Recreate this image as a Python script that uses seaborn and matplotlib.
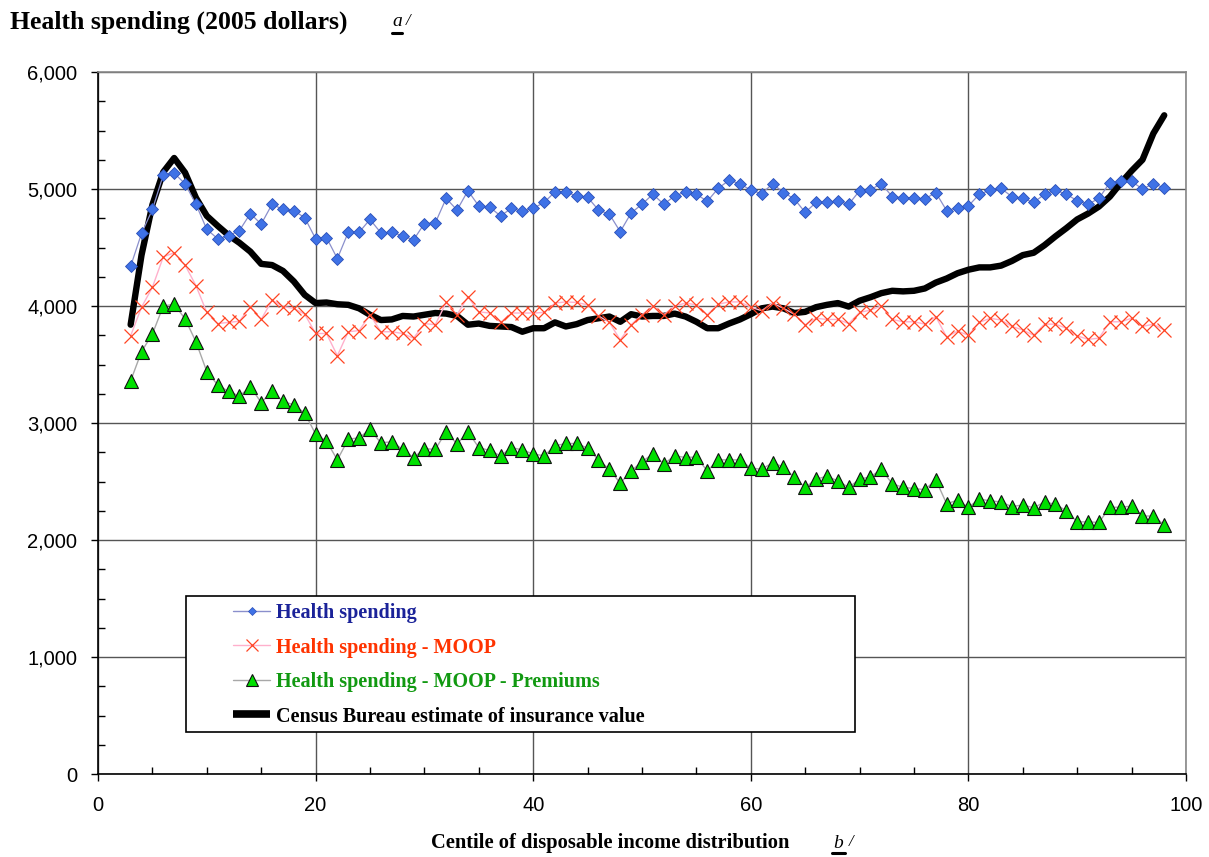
import matplotlib
matplotlib.use("Agg")
import matplotlib.pyplot as plt
import seaborn as sns
import pandas as pd
from matplotlib.lines import Line2D
from matplotlib.patches import Rectangle
from matplotlib.ticker import MultipleLocator, StrMethodFormatter

centiles = list(range(3, 99))
health = [4340, 4620, 4825, 5120, 5135, 5045, 4870, 4655, 4575, 4600, 4645, 4790, 4700, 4870, 4825, 4815, 4755, 4575, 4585,
          4405, 4630, 4630, 4740, 4625, 4630, 4600, 4565, 4705, 4710, 4920, 4820, 4985, 4855, 4845, 4770, 4835, 4810, 4835, 4885,
          4975, 4975, 4940, 4930, 4820, 4785, 4635, 4795, 4870, 4955, 4870, 4940, 4975, 4955, 4895, 5005, 5075, 5045, 4990,
          4960, 5045, 4970, 4915, 4800, 4885, 4885, 4895, 4870, 4985, 4995, 5045, 4935, 4925, 4925, 4915, 4970, 4815, 4840,
          4855, 4955, 4990, 5005, 4935, 4920, 4885, 4955, 4990, 4955, 4900, 4870, 4920, 5055, 5065, 5065, 5000, 5045, 5010]
moop = [3745, 3990, 4160, 4420, 4455, 4350, 4175, 3945, 3850, 3860, 3870, 3995, 3885, 4050, 3995, 3980, 3930, 3765, 3765,
        3575, 3780, 3790, 3925, 3780, 3780, 3765, 3725, 3850, 3840, 4030, 3925, 4080, 3950, 3940, 3860, 3940, 3940, 3940, 3945,
        4025, 4035, 4030, 4010, 3915, 3860, 3710, 3840, 3925, 4000, 3925, 4000, 4025, 4010, 3925, 4015, 4035, 4035, 3990,
        3960, 4025, 3980, 3930, 3840, 3895, 3885, 3885, 3850, 3945, 3965, 4000, 3885, 3865, 3865, 3845, 3910, 3735, 3785,
        3750, 3860, 3895, 3880, 3825, 3795, 3750, 3845, 3845, 3810, 3745, 3715, 3725, 3865, 3865, 3895, 3825, 3845, 3795]
premiums = [3360, 3610, 3760, 4000, 4015, 3890, 3695, 3440, 3325, 3270, 3230, 3310, 3175, 3270, 3185, 3155, 3085, 2905, 2845,
            2685, 2860, 2875, 2945, 2830, 2840, 2775, 2705, 2780, 2775, 2925, 2820, 2925, 2790, 2765, 2720, 2790, 2770, 2735, 2720,
            2805, 2825, 2825, 2785, 2685, 2605, 2485, 2590, 2670, 2735, 2650, 2720, 2705, 2710, 2590, 2685, 2685, 2685, 2615,
            2605, 2660, 2625, 2535, 2450, 2520, 2545, 2505, 2450, 2520, 2540, 2605, 2480, 2450, 2440, 2430, 2515, 2310, 2340,
            2280, 2350, 2335, 2325, 2285, 2300, 2275, 2325, 2305, 2250, 2155, 2155, 2150, 2280, 2280, 2290, 2205, 2205, 2130]
census = [3840, 4435, 4865, 5145, 5265, 5140, 4925, 4770, 4685, 4605, 4540, 4465, 4360, 4350, 4300, 4210, 4095, 4025, 4030,
          4015, 4010, 3980, 3925, 3880, 3885, 3915, 3910, 3925, 3940, 3935, 3915, 3840, 3850, 3830, 3825, 3820, 3780, 3810, 3810,
          3860, 3825, 3845, 3880, 3895, 3910, 3865, 3930, 3910, 3915, 3915, 3935, 3910, 3865, 3810, 3810, 3850, 3885, 3930,
          3980, 3995, 3980, 3940, 3950, 3990, 4010, 4025, 3995, 4045, 4075, 4110, 4130, 4125, 4130, 4150, 4200, 4235, 4280,
          4310, 4330, 4330, 4345, 4385, 4435, 4455, 4520, 4595, 4665, 4740, 4790, 4850, 4935, 5050, 5155, 5250, 5475, 5630]

labels = ["Health spending", "Health spending - MOOP",
          "Health spending - MOOP - Premiums", "Census Bureau estimate of insurance value"]
label_colors = ["#1a2299", "#ff3300", "#119911", "#000000"]
title = "Health spending (2005 dollars)"
xlabel = "Centile of disposable income distribution"

df = pd.DataFrame({"centile": centiles, "health": health, "moop": moop,
                   "premiums": premiums, "census": census})

sns.set_style("white")
plt.rcParams["font.family"] = ["Liberation Sans", "DejaVu Sans"]
plt.rcParams["text.color"] = "black"
plt.rcParams["xtick.color"] = "black"
plt.rcParams["ytick.color"] = "black"
plt.rcParams["axes.labelcolor"] = "black"
serif = ["Liberation Serif", "DejaVu Serif"]

fig = plt.figure(figsize=(12.09, 8.57), dpi=100)
ax = fig.add_axes([98 / 1209, 83 / 857, 1088 / 1209, 702 / 857])

sns.lineplot(data=df, x="centile", y="census", ax=ax, color="black", linewidth=4.6, zorder=3)
sns.lineplot(data=df, x="centile", y="health", ax=ax, color="#8a8fcc", linewidth=0.9,
             marker="D", markersize=6.2, markerfacecolor="#3f72e6", markeredgecolor="#2a4fb8",
             markeredgewidth=0.6, zorder=4)
sns.lineplot(data=df, x="centile", y="moop", ax=ax, color="#ffb0cc", linewidth=1.0,
             marker="x", markersize=10, markeredgecolor="#ff4422", markeredgewidth=0.9, zorder=4)
sns.lineplot(data=df, x="centile", y="premiums", ax=ax, color="#a8a8a8", linewidth=1.0,
             marker="^", markersize=9.5, markerfacecolor="#00e000", markeredgecolor="#111111",
             markeredgewidth=0.8, zorder=4)

ax.set_xlim(0, 100)
ax.set_ylim(0, 6000)
ax.xaxis.set_major_locator(MultipleLocator(20))
ax.xaxis.set_minor_locator(MultipleLocator(5))
ax.yaxis.set_major_locator(MultipleLocator(1000))
ax.yaxis.set_minor_locator(MultipleLocator(250))
ax.yaxis.set_major_formatter(StrMethodFormatter("{x:,.0f}"))
ax.grid(True, which="major", color="#555555", linewidth=1.0, zorder=0)
ax.set_axisbelow(True)
ax.tick_params(axis="both", which="major", direction="out", length=5, width=1,
               color="black", labelsize=14.5, left=True, bottom=True)
ax.tick_params(axis="y", which="major", pad=10)
ax.tick_params(axis="x", which="major", pad=11)
ax.tick_params(axis="both", which="minor", direction="in", length=5, width=1,
               color="black", left=True, bottom=True)
ax.set_xlabel("")
ax.set_ylabel("")
for s in ["left", "bottom"]:
    ax.spines[s].set_color("black")
    ax.spines[s].set_linewidth(1.2)
for s in ["top", "right"]:
    ax.spines[s].set_color("#888888")
    ax.spines[s].set_linewidth(1.2)

# legend frame
ax.add_patch(Rectangle(((186 - 98) / 1088, (774 - 732) / 702), 669 / 1088, 136 / 702,
                       transform=ax.transAxes, facecolor="white", edgecolor="black",
                       linewidth=1.2, zorder=9))

handles = [
    Line2D([], [], color="#8a8fcc", linewidth=1.0, marker="D", markersize=4.5,
           markerfacecolor="#3f72e6", markeredgecolor="#2a4fb8", markeredgewidth=0.5),
    Line2D([], [], color="#ffb0cc", linewidth=1.0, marker="x", markersize=9,
           markeredgecolor="#ff4422", markeredgewidth=0.9),
    Line2D([], [], color="#a8a8a8", linewidth=1.0, marker="^", markersize=8,
           markerfacecolor="#00e000", markeredgecolor="#111111", markeredgewidth=0.8),
    Line2D([], [], color="black", linewidth=5.5, solid_capstyle="butt"),
]
leg = ax.legend(handles, labels, loc="upper left",
                bbox_to_anchor=((233 - 98) / 1088, (774 - 603) / 702),
                frameon=False, borderaxespad=0, borderpad=0,
                handlelength=1.85, handletextpad=0.3, labelspacing=0.72,
                prop={"family": serif, "weight": "bold", "size": 14.5})
leg.set_zorder(10)
for t, c in zip(leg.get_texts(), label_colors):
    t.set_color(c)

# title and axis label
fig.text(10 / 1209, 1 - 22 / 857, title, family=serif, weight="bold", size=18.5, va="center", ha="left")
fig.text(397 / 1209, 1 - 22 / 857, "a", family=serif, style="italic", size=14, va="center", ha="center")
fig.text(408 / 1209, 1 - 21 / 857, "/", family=serif, style="italic", size=12, va="center", ha="center")
fig.add_artist(Line2D([392 / 1209, 402 / 1209], [1 - 33 / 857, 1 - 33 / 857], color="black", linewidth=2.2))

fig.text(610 / 1209, 1 - 843 / 857, xlabel, family=serif, weight="bold", size=14.8, va="center", ha="center")
fig.text(838 / 1209, 1 - 843 / 857, "b", family=serif, style="italic", size=14, va="center", ha="center")
fig.text(851 / 1209, 1 - 842 / 857, "/", family=serif, style="italic", size=12, va="center", ha="center")
fig.add_artist(Line2D([832 / 1209, 845 / 1209], [1 - 853 / 857, 1 - 853 / 857], color="black", linewidth=2.2))

fig.savefig("out.png", dpi=100, facecolor="white")
